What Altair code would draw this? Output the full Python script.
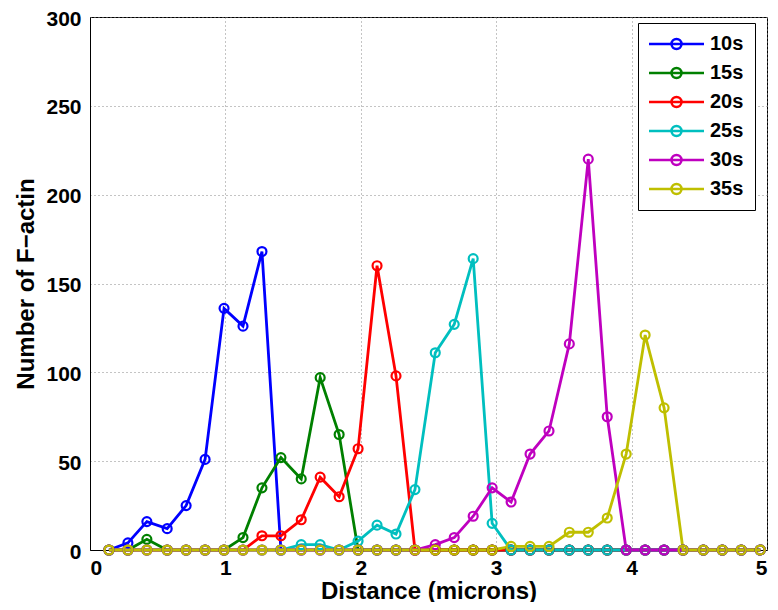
import altair as alt
import pandas as pd

distance = [0.14, 0.28, 0.42, 0.57, 0.71, 0.85, 0.99, 1.13, 1.27, 1.41,
            1.56, 1.70, 1.84, 1.98, 2.12, 2.26, 2.40, 2.55, 2.69, 2.83,
            2.97, 3.11, 3.25, 3.39, 3.54, 3.68, 3.82, 3.96, 4.10, 4.24,
            4.38, 4.53, 4.67, 4.81, 4.95]

series = ["10s", "15s", "20s", "25s", "30s", "35s"]
colors = ["#0000FF", "#008000", "#FF0000", "#00BFBF", "#BF00BF", "#BFBF00"]

v10 = [0, 4, 16, 12, 25, 51, 136, 126, 168, 0,
       0, 0, 0, 0, 0, 0, 0, 0, 0, 0,
       0, 0, 0, 0, 0, 0, 0, 0, 0, 0,
       0, 0, 0, 0, 0]
v15 = [0, 0, 6, 0, 0, 0, 0, 7, 35, 52,
       40, 97, 65, 0, 0, 0, 0, 0, 0, 0,
       0, 0, 0, 0, 0, 0, 0, 0, 0, 0,
       0, 0, 0, 0, 0]
v20 = [0, 0, 0, 0, 0, 0, 0, 0, 8, 8,
       17, 41, 30, 57, 160, 98, 0, 0, 0, 0,
       0, 0, 0, 0, 0, 0, 0, 0, 0, 0,
       0, 0, 0, 0, 0]
v25 = [0, 0, 0, 0, 0, 0, 0, 0, 0, 0,
       3, 3, 0, 5, 14, 9, 34, 111, 127, 164,
       15, 0, 0, 0, 0, 0, 0, 0, 0, 0,
       0, 0, 0, 0, 0]
v30 = [0, 0, 0, 0, 0, 0, 0, 0, 0, 0,
       0, 0, 0, 0, 0, 0, 0, 3, 7, 19,
       35, 27, 54, 67, 116, 220, 75, 0, 0, 0,
       0, 0, 0, 0, 0]
v35 = [0, 0, 0, 0, 0, 0, 0, 0, 0, 0,
       0, 0, 0, 0, 0, 0, 0, 0, 0, 0,
       0, 2, 2, 2, 10, 10, 18, 54, 121, 80,
       0, 0, 0, 0, 0]

x_ticks = [0, 1, 2, 3, 4, 5]
y_ticks = [0, 50, 100, 150, 200, 250, 300]

rows = []
for name, vals in zip(series, [v10, v15, v20, v25, v30, v35]):
    for d, v in zip(distance, vals):
        rows.append({"Distance": d, "Count": v, "Series": name})
df = pd.DataFrame(rows)

FONT = "Liberation Sans"

# line through an open circle (custom legend symbol, unit = sqrt(size)/2)
legend_symbol = "M-5.5,0H5.5M1,0A1,1,0,1,1,-1,0A1,1,0,1,1,1,0"

color = alt.Color(
    "Series:N",
    scale=alt.Scale(domain=series, range=colors),
    legend=alt.Legend(
        title=None,
        orient="none",
        legendX=548,
        legendY=6,
        symbolType=legend_symbol,
        symbolSize=100,
        symbolOffset=17.5,
        symbolStrokeWidth=2.5,
        symbolFillColor="transparent",
        labelFont=FONT,
        labelFontSize=20,
        labelFontWeight="bold",
        labelColor="black",
        labelOffset=23.5,
        rowPadding=9,
        padding=11,
        fillColor="white",
        strokeColor="black",
    ),
)

x = alt.X(
    "Distance:Q",
    scale=alt.Scale(domain=[0, 5], nice=False),
    axis=alt.Axis(values=x_ticks, title="Distance (microns)", format="d",
                  titleY=48, titleBaseline="alphabetic"),
)
y = alt.Y(
    "Count:Q",
    scale=alt.Scale(domain=[0, 300], nice=False),
    axis=alt.Axis(values=y_ticks, title="Number of F\u2212actin", format="d",
                  titleX=-57, titleY=266.5, titleBaseline="alphabetic",
                  titleAlign="center", titleAngle=270),
)

lines = alt.Chart(df).mark_line(strokeWidth=2.8).encode(x=x, y=y, color=color)
points = alt.Chart(df).mark_point(
    shape="circle", filled=False, size=80, strokeWidth=2.2, opacity=1
).encode(x=x, y=y, color=color)

chart = (
    alt.layer(lines, points)
    .properties(
        width=677,
        height=533,
        autosize=alt.AutoSizeParams(type="none"),
        padding={"left": 82, "top": 9, "right": 3, "bottom": 52},
    )
    .configure_view(stroke="black", strokeWidth=1)
    .configure_axis(
        labelFont=FONT,
        labelFontSize=21,
        labelFontWeight="bold",
        labelColor="black",
        titleFont=FONT,
        titleFontSize=24,
        titleFontWeight="bold",
        titleColor="black",
        domainColor="black",
        ticks=False,
        grid=True,
        gridColor="#888888",
        gridDash=[1, 3],
        gridWidth=1,
    )
    .configure_axisX(labelPadding=7)
    .configure_axisY(labelPadding=9, labelOffset=2)
)

chart.save("out.html", embed_options={"renderer": "svg", "actions": False})
